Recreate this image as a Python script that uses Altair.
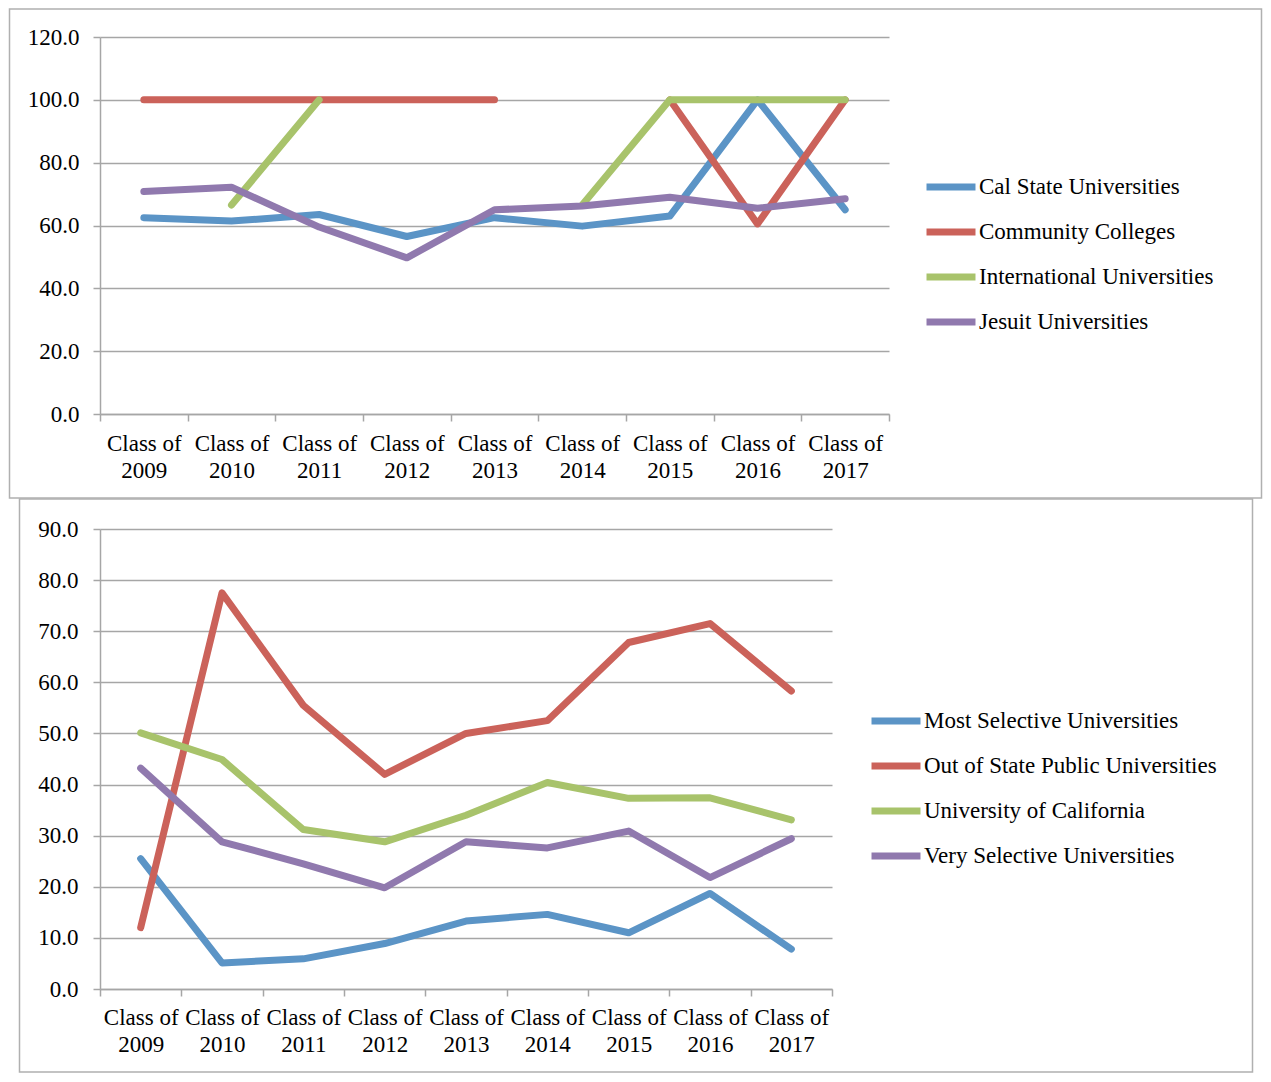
import altair as alt
import pandas as pd

classes = ["Class of 2009", "Class of 2010", "Class of 2011", "Class of 2012", "Class of 2013",
           "Class of 2014", "Class of 2015", "Class of 2016", "Class of 2017"]

# top chart
top_series = ["Cal State Universities", "Community Colleges",
              "International Universities", "Jesuit Universities"]
cal_state = [62.5, 61.4, 63.5, 56.5, 62.5, 59.8, 63.0, 100.0, 65.0]
community = [100.0, 100.0, 100.0, 100.0, 100.0, None, 100.0, 60.5, 100.0]
international = [None, 66.5, 100.0, None, None, 66.5, 100.0, 100.0, 100.0]
jesuit = [70.8, 72.2, 59.5, 49.7, 65.0, 66.2, 69.0, 65.5, 68.5]

# bottom chart
bottom_series = ["Most Selective Universities", "Out of State Public Universities",
                 "University of California", "Very Selective Universities"]
most_selective = [25.5, 5.1, 5.9, 8.9, 13.3, 14.6, 11.0, 18.7, 7.8]
out_of_state = [12.0, 77.5, 55.5, 42.0, 50.0, 52.5, 67.8, 71.5, 58.3]
univ_calif = [50.1, 44.9, 31.2, 28.8, 34.0, 40.4, 37.3, 37.4, 33.1]
very_selective = [43.2, 28.8, 24.5, 19.8, 28.8, 27.6, 30.9, 21.8, 29.4]

palette = ["#5b94c6", "#cb625a", "#a8c36b", "#9079ae"]

FONT = "Liberation Serif"
FS = 23
GRID = "#a6a6a6"


def long_df(series_names, arrays):
    rows = []
    for name, vals in zip(series_names, arrays):
        for c, v in zip(classes, vals):
            rows.append({"cls": c, "series": name, "value": v})
    return pd.DataFrame(rows)


def panel(df, series_names, ymax, ystep, width, height, legend_x, legend_y, frame,
          label_pad, xlabel_pad):
    x = alt.X(
        "cls:N", sort=classes, title=None, bandPosition=0.5,
        scale=alt.Scale(type="band", paddingInner=0, paddingOuter=0),
        axis=alt.Axis(
            tickBand="extent", labelAngle=0, grid=False,
            labelExpr="datum.label ? ['Class of', substring(datum.label, 9)] : ''",
            labelFont=FONT, labelFontSize=FS, labelColor="#000000",
            labelLineHeight=27, labelPadding=xlabel_pad, labelBaseline="top",
            domainColor=GRID, domainWidth=1.5, tickColor=GRID, tickWidth=1.5, tickSize=7,
        ),
    )
    y = alt.Y(
        "value:Q", title=None,
        scale=alt.Scale(domain=[0, ymax], nice=False, zero=True),
        axis=alt.Axis(
            values=list(range(0, int(ymax) + 1, ystep)), format=".1f",
            grid=True, gridColor=GRID, gridWidth=1.5,
            domainColor=GRID, domainWidth=1.5, tickColor=GRID, tickWidth=1.5, tickSize=7,
            labelFont=FONT, labelFontSize=FS, labelColor="#000000", labelPadding=label_pad,
        ),
    )
    color = alt.Color(
        "series:N", sort=series_names,
        scale=alt.Scale(domain=series_names, range=palette),
        legend=alt.Legend(
            orient="none", legendX=legend_x, legendY=legend_y, title=None,
            symbolType="stroke", symbolSize=2400, symbolStrokeWidth=7,
            labelFont=FONT, labelFontSize=FS, labelColor="#000000",
            labelOffset=0, rowPadding=3, labelLimit=500,
        ),
    )
    lines = alt.Chart(df).mark_line(
        strokeWidth=7, strokeCap="round", strokeJoin="round",
        invalid="break-paths-filter-domains",
    ).encode(x=x, y=y, color=color)

    fx0, fx1, fy0, fy1 = frame
    border = alt.Chart(pd.DataFrame({"k": [0]})).mark_rect(
        fillOpacity=0, stroke="#b0b0b0", strokeWidth=1.5
    ).encode(
        x=alt.value(fx0), x2=alt.value(fx1), y=alt.value(fy0), y2=alt.value(fy1)
    )
    return alt.layer(border, lines).properties(width=width, height=height)


top_df = long_df(top_series, [cal_state, community, international, jesuit])
bottom_df = long_df(bottom_series, [most_selective, out_of_state, univ_calif, very_selective])

top = panel(top_df, top_series, 120, 20, 789, 377, 823, 122,
            (-90.5, 1161.5, -28, 461), 14, 11)
bottom = panel(bottom_df, bottom_series, 90, 10, 732, 460, 768, 164,
               (-80.5, 1152.5, -30, 543), 15, 10)

chart = alt.vconcat(top, bottom, spacing=115, bounds="flush").resolve_scale(
    color="independent", x="independent", y="independent"
).resolve_legend(color="independent").properties(
    padding=0, background="#ffffff"
).configure_view(stroke=None)

chart.save("out.html", embed_options={"renderer": "svg", "actions": False})
